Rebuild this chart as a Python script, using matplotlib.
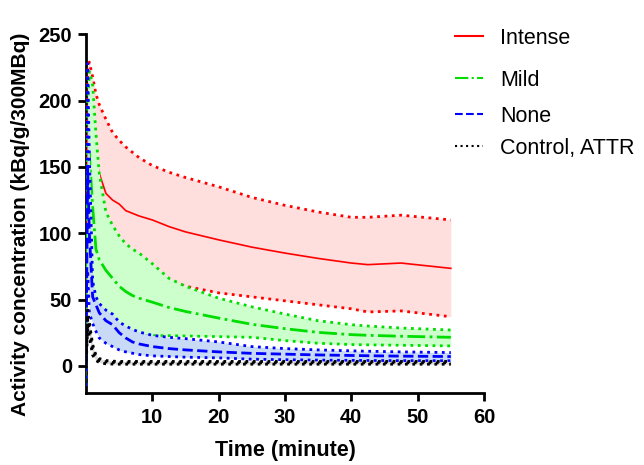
import numpy as np
import matplotlib.pyplot as plt

plt.rcParams['font.family'] = ['Liberation Sans', 'DejaVu Sans']

# time points (minutes)
t = [0, 0.25, 0.5, 1, 1.5, 2, 3, 4, 5, 6, 7, 8, 10, 12.5, 15, 20, 25, 30, 35, 40, 42.5, 47.5, 55]

intense_mean = [0, 170, 180, 170, 157, 145, 130, 125, 122, 117, 115, 113, 110, 105, 101, 95, 89.5, 85, 81, 77.5, 76.3, 77.5, 73.5]
intense_hi = [0, 225, 229, 218, 205, 197, 186, 176, 170, 165, 161, 157, 151, 146, 142, 135, 127, 121, 116, 112, 112, 113.6, 110]
intense_lo = [0, 115, 131, 122, 109, 93, 74, 74, 74, 69, 69, 69, 69, 64, 60, 55, 52, 49, 46, 43, 40.6, 41.4, 37]

mild_mean = [0, 150, 160, 120, 88, 80, 72, 66, 60, 56, 53, 51, 48, 44, 41, 36, 31.3, 28, 25.2, 23.5, 23, 22.3, 21.5]
mild_hi = [15, 200, 222, 212, 175, 145, 116, 106, 98, 92, 88, 85, 77, 66, 60, 51, 44.5, 39, 34, 31, 30, 28.5, 27]
mild_lo = [-15, 100, 90, 50, 35, 30, 28, 26, 25, 24, 23.5, 23, 22.7, 22.7, 22.5, 22, 21.5, 19, 17, 16, 15.8, 15.5, 15]

none_mean = [0, 150, 100, 52, 46, 40, 34, 31, 25, 21, 18, 16.5, 14.5, 13, 12, 10.5, 9.4, 8.8, 8.2, 7.8, 7.6, 7.3, 7]
none_hi = [5, 228, 160, 64, 52, 47, 42, 39, 33, 30, 27.5, 25.5, 23, 21.5, 20.5, 18, 14.5, 13, 12, 11.3, 11, 10.5, 10]
none_lo = [-15, 72, 40, 32, 26, 21, 17, 14.5, 12, 10.5, 9.5, 8.5, 7.5, 7, 6.5, 6, 5, 4.6, 4.3, 4.1, 4, 3.9, 3.8]

ctrl_mean = [0, 35, 28, 12, 6, 4, 3, 2.5, 2.3, 2.3, 2.3, 2.3, 2.3, 2.3, 2.3, 2.3, 2.3, 2.3, 2.3, 2.3, 2.3, 2.3, 2.3]
ctrl_hi = [2, 42, 33, 16, 8, 5.5, 4, 3.5, 3.3, 3.3, 3.3, 3.3, 3.3, 3.3, 3.3, 3.3, 3.3, 3.3, 3.3, 3.3, 3.3, 3.3, 3.3]
ctrl_lo = [-2, 28, 22, 8, 4, 2.5, 1.5, 1.3, 1.2, 1.2, 1.2, 1.2, 1.2, 1.2, 1.2, 1.2, 1.2, 1.2, 1.2, 1.2, 1.2, 1.2, 1.2]

groups = [
    ("Intense", intense_mean, intense_hi, intense_lo, "#ff0000", "#ffdede", "-", 1.2),
    ("Mild", mild_mean, mild_hi, mild_lo, "#00dd00", "#ccffcc", "-.", 2.0),
    ("None", none_mean, none_hi, none_lo, "#0000ff", "#c8daf5", "--", 2.0),
    ("Control, ATTR", ctrl_mean, ctrl_hi, ctrl_lo, "#000000", "#dddddd", ":", 2.0),
]
legend_y = [38, 80, 116, 148]  # pixel rows of the legend entries

fig = plt.figure(figsize=(6.44, 4.65), dpi=100)
ax = fig.add_axes([86 / 644, 1 - 393 / 465, 398 / 644, (393 - 34.3) / 465])

handles = []
for i, (name, m, hi, lo, c, fc, ls, lw) in enumerate(groups):
    z = 2 + i * 3
    ax.fill_between(t, lo, hi, color=fc, lw=0, zorder=z)
    ax.plot(t, hi, ls=":", color=c, lw=2, zorder=z + 1)
    ax.plot(t, lo, ls=":", color=c, lw=2, zorder=z + 1)
    h, = ax.plot(t, m, ls=ls, color=c, lw=lw, zorder=z + 2, label=name)
    handles.append(h)

ax.set_xlim(0, 60)
ax.set_ylim(-20.5, 250)
ax.set_xticks([10, 20, 30, 40, 50, 60])
ax.set_yticks([0, 50, 100, 150, 200, 250])
for s in ["top", "right"]:
    ax.spines[s].set_visible(False)
for s in ["left", "bottom"]:
    ax.spines[s].set_linewidth(2)
ax.tick_params(width=2, length=6, labelsize=14.5, pad=4)
ax.tick_params(axis="x", pad=5)
for lab in ax.get_xticklabels() + ax.get_yticklabels():
    lab.set_fontweight("bold")

ax.set_xlabel("Time (minute)", fontsize=15.5, fontweight="bold", labelpad=9)
ax.set_ylabel("Activity concentration (kBq/g/300MBq)", fontsize=15, fontweight="bold")
ax.yaxis.set_label_coords(-0.14, 0.47)

# one legend per entry so the uneven spacing of the original can be kept
for h, y in zip(handles, legend_y):
    leg = fig.legend(handles=[h], loc="center left", bbox_to_anchor=(455 / 644, 1 - y / 465),
                     frameon=False, fontsize=15.5, handlelength=1.3, handletextpad=0.8,
                     borderpad=0, borderaxespad=0)
    leg.get_lines()[0].set_linewidth(1.5)

fig.savefig("out.png", dpi=100)
